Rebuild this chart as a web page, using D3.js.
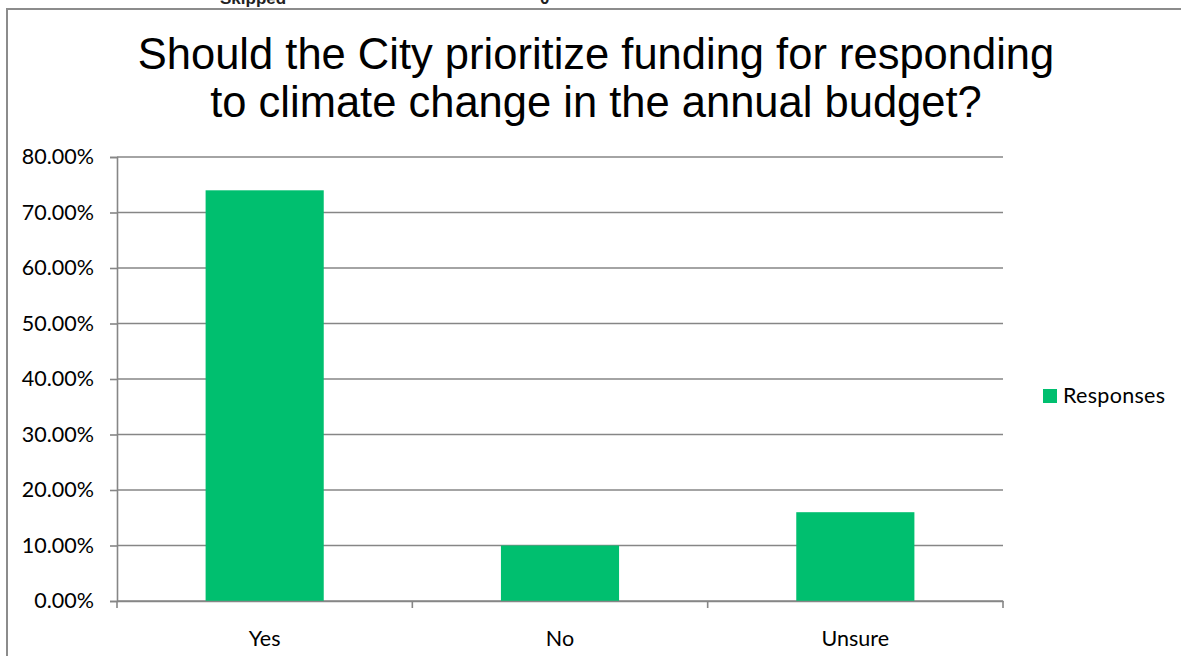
<!DOCTYPE html>
<html>
<head>
<meta charset="utf-8">
<script src="https://cdn.jsdelivr.net/npm/d3@7"></script>
<style>
  html, body { margin: 0; padding: 0; background: #fff; }
  svg { display: block; }
</style>
</head>
<body>
<svg id="chart" width="1181" height="656"></svg>
<script>
// Survey responses, as share of respondents (%)
const categories = ["Yes", "No", "Unsure"];
const responses = [74.0, 10.0, 16.0];
const seriesName = "Responses";
const yTicks = [0, 10, 20, 30, 40, 50, 60, 70, 80];
const titleLines = [
  "Should the City prioritize funding for responding",
  "to climate change in the annual budget?"
];
const headerFragments = ["Skipped", "0"];

const W = 1181, H = 656;
const plot = { left: 117, right: 1003, top: 157, bottom: 601 };
const green = "#00BF6F";
const gridGray = "#868686";
const labelFont = "Lato, 'Open Sans', sans-serif";
const labelSize = 21.5;

const svg = d3.select("#chart");

// Partial header row from the sheet above the chart frame
svg.selectAll("text.header")
  .data(headerFragments)
  .join("text")
  .attr("class", "header")
  .attr("x", (d, i) => i === 0 ? 220 : 540)
  .attr("y", 4)
  .attr("font-family", "'Liberation Sans', Arial, sans-serif")
  .attr("font-weight", "bold")
  .attr("font-size", 17)
  .attr("fill", "#222")
  .text(d => d);

// Chart frame (extends past the right and bottom edges)
svg.append("rect")
  .attr("x", 7).attr("y", 9)
  .attr("width", W + 20).attr("height", H + 20)
  .attr("fill", "#fff")
  .attr("stroke", "#8c8c8c")
  .attr("stroke-width", 2);

// Title
svg.append("text")
  .attr("x", 596)
  .attr("text-anchor", "middle")
  .attr("font-family", "'Liberation Sans', Arial, sans-serif")
  .attr("font-size", 43.5)
  .attr("fill", "#000")
  .selectAll("tspan")
  .data(titleLines)
  .join("tspan")
  .attr("x", 596)
  .attr("y", (d, i) => 69 + i * 48)
  .text(d => d);

// Scales
const x = d3.scaleBand()
  .domain(categories)
  .range([plot.left, plot.right])
  .paddingInner(0.6)
  .paddingOuter(0.3);

const y = d3.scaleLinear()
  .domain([0, 80])
  .range([plot.bottom, plot.top]);

// Horizontal gridlines
svg.append("g")
  .selectAll("line")
  .data(yTicks)
  .join("line")
  .attr("x1", plot.left).attr("x2", plot.right)
  .attr("y1", d => y(d)).attr("y2", d => y(d))
  .attr("stroke", gridGray)
  .attr("stroke-width", 1.6);

// Bars
svg.append("g")
  .selectAll("rect")
  .data(categories.map((c, i) => ({ c, v: responses[i] })))
  .join("rect")
  .attr("x", d => x(d.c))
  .attr("y", d => y(d.v))
  .attr("width", x.bandwidth())
  .attr("height", d => y(0) - y(d.v))
  .attr("fill", green);

// Y axis
const yAxis = svg.append("g")
  .attr("transform", `translate(${plot.left},0)`)
  .call(d3.axisLeft(y)
    .tickValues(yTicks)
    .tickSize(7)
    .tickPadding(16)
    .tickFormat(d => d.toFixed(2) + "%"));

// X axis with ticks at category boundaries
const xAxis = svg.append("g")
  .attr("transform", `translate(0,${plot.bottom})`)
  .call(d3.axisBottom(x).tickSize(0).tickPadding(30));

const boundaries = d3.range(categories.length + 1)
  .map(i => plot.left + i * (plot.right - plot.left) / categories.length);
xAxis.selectAll("line.boundary")
  .data(boundaries)
  .join("line")
  .attr("class", "boundary")
  .attr("x1", d => d).attr("x2", d => d)
  .attr("y1", 0).attr("y2", 7);

[yAxis, xAxis].forEach(g => {
  g.select(".domain").attr("stroke", gridGray).attr("stroke-width", 1.6);
  g.selectAll("line").attr("stroke", gridGray).attr("stroke-width", 1.6);
  g.selectAll("text")
    .attr("font-family", labelFont)
    .attr("font-size", labelSize)
    .attr("fill", "#000");
});

// Legend
const legend = svg.append("g").attr("transform", "translate(1043,389)");
legend.append("rect")
  .attr("width", 14).attr("height", 14)
  .attr("fill", green);
legend.append("text")
  .attr("x", 20).attr("y", 14)
  .attr("font-family", labelFont)
  .attr("font-size", labelSize)
  .attr("letter-spacing", 0.3)
  .attr("fill", "#000")
  .text(seriesName);
</script>
</body>
</html>
